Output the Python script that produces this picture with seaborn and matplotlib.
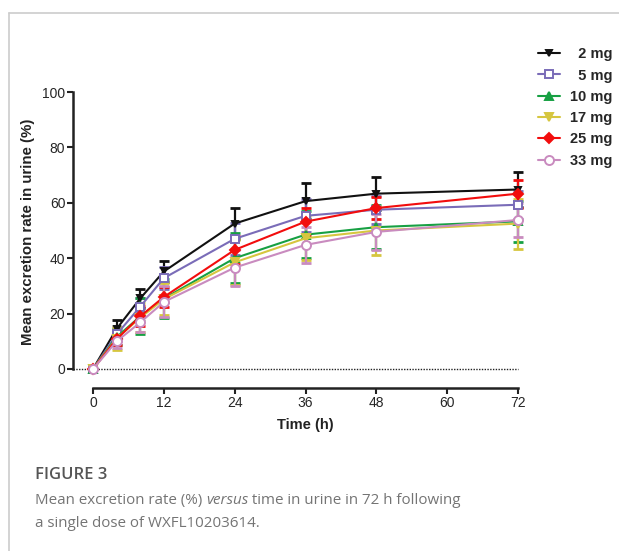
import numpy as np
import pandas as pd
import matplotlib
matplotlib.use("Agg")
import matplotlib.pyplot as plt
from matplotlib.lines import Line2D
import seaborn as sns

# ---- data ----
time_h = [0, 4, 8, 12, 24, 36, 48, 72]
doses = ["2 mg", "5 mg", "10 mg", "17 mg", "25 mg", "33 mg"]
mean_2 = [0, 14.5, 25.5, 35.2, 52.5, 60.6, 63.3, 64.8]
sd_2 = [0, 3.2, 3.5, 3.8, 5.5, 6.5, 6.0, 6.3]
mean_5 = [0, 12.5, 22.5, 32.8, 47.0, 55.3, 57.5, 59.3]
sd_5 = [0, 2.5, 3.0, 4.0, 5.8, 6.0, 5.0, 5.0]
mean_10 = [0, 11.5, 19.0, 25.4, 40.0, 48.5, 51.2, 53.3]
sd_10 = [0, 3.0, 6.5, 7.0, 9.0, 8.5, 8.0, 7.5]
mean_17 = [0, 11.0, 18.5, 25.2, 38.5, 47.2, 50.0, 52.5]
sd_17 = [0, 4.2, 5.3, 5.8, 8.0, 8.0, 9.0, 9.0]
mean_25 = [0, 10.8, 19.0, 26.0, 43.0, 53.2, 58.1, 63.3]
sd_25 = [0, 2.2, 3.6, 3.6, 5.0, 5.0, 4.0, 5.0]
mean_33 = [0, 10.0, 16.8, 24.2, 36.6, 44.8, 49.5, 53.8]
sd_33 = [0, 2.5, 3.5, 5.6, 6.5, 6.4, 6.5, 6.0]
x_ticks = [0, 12, 24, 36, 48, 60, 72]
y_ticks = [0, 20, 40, 60, 80, 100]

means = [mean_2, mean_5, mean_10, mean_17, mean_25, mean_33]
sds = [sd_2, sd_5, sd_10, sd_17, sd_25, sd_33]

colors = ["#111111", "#7a6cb8", "#17a043", "#d6c63f", "#f20d0d", "#c98bbf"]
markers = ["v", "s", "^", "v", "D", "o"]
open_marker = [False, True, False, False, False, True]
msizes = [5, 6, 5.5, 5.5, 5, 6.5]

rows = []
for d, m, s in zip(doses, means, sds):
    for t, mv, sv in zip(time_h, m, s):
        rows.append({"Time": t, "Rate": mv, "SD": sv, "Dose": d})
df = pd.DataFrame(rows)

sns.set_style("ticks")
plt.rcParams["font.family"] = ["Liberation Sans", "DejaVu Sans"]

W, H = 619, 551
PT = 72 / 100  # points per pixel
fig = plt.figure(figsize=(W / 100, H / 100), dpi=100)
ax = fig.add_axes([93 / W, (H - 369) / H, 425 / W, 277 / H])

for i, d in enumerate(doses):
    sub = df[df["Dose"] == d]
    ax.errorbar(sub["Time"], sub["Rate"], yerr=sub["SD"], fmt="none",
                ecolor=colors[i], elinewidth=1.6, capsize=3.3, capthick=2.0,
                clip_on=False, zorder=2 + i * 0.1)
    sns.lineplot(data=sub, x="Time", y="Rate", ax=ax, color=colors[i],
                 marker=markers[i], markersize=msizes[i],
                 markerfacecolor="white" if open_marker[i] else colors[i],
                 markeredgecolor=colors[i], markeredgewidth=1.4,
                 linewidth=1.5, label=d, errorbar=None, clip_on=False,
                 zorder=3 + i * 0.1)

# dotted zero line from the (offset) y spine to 72 h
ax.axhline(0, xmin=-20 / 425, xmax=1.0, color="#222222", linestyle=(0, (1, 1)),
           linewidth=1.0, zorder=1, clip_on=False)

ax.set_xlim(0, 72)
ax.set_ylim(0, 100)
ax.set_xticks(x_ticks)
ax.set_yticks(y_ticks)
ax.set_xticklabels([str(v) for v in x_ticks], fontsize=10, fontweight="bold", color="#222222")
ax.set_yticklabels([str(v) for v in y_ticks], fontsize=10, fontweight="bold", color="#222222")
sns.despine(ax=ax)
ax.spines["bottom"].set_position(("outward", 19 * PT))
ax.spines["left"].set_position(("outward", 20 * PT))
for sp in ["left", "bottom"]:
    ax.spines[sp].set_linewidth(1.8)
    ax.spines[sp].set_color("#222222")
ax.tick_params(axis="both", length=4, width=1.5, color="#222222", pad=1.5)
ax.set_xlabel("Time (h)", fontsize=10.5, fontweight="bold", color="#222222")
ax.set_ylabel("Mean excretion rate in urine (%)", fontsize=10.8, fontweight="bold",
              color="#222222")
ax.xaxis.set_label_coords((305 - 93) / 425, (369 - 425) / 277)
ax.yaxis.set_label_coords((28 - 93) / 425, (369 - 232) / 277)
ax.xaxis.label.set_va("center")
ax.yaxis.label.set_va("center")

handles, labels = ax.get_legend_handles_labels()
pad_labels = ["  " + l if len(l.split()[0]) == 1 else l for l in labels]
leg = ax.legend(handles, pad_labels, loc="upper left",
                bbox_to_anchor=(531 / W, 1 - 40 / H), bbox_transform=fig.transFigure,
                frameon=False, handlelength=1.5, handletextpad=0.7,
                labelspacing=0.5, borderpad=0,
                prop={"weight": "bold", "size": 10.5})

# frame lines of the figure panel
fig.add_artist(Line2D([9 / W, 1], [1 - 13 / H, 1 - 13 / H], transform=fig.transFigure,
                      color="#cccccc", linewidth=1.2))
fig.add_artist(Line2D([9 / W, 9 / W], [0, 1 - 13 / H], transform=fig.transFigure,
                      color="#cccccc", linewidth=1.2))

# caption
cap_font = ["Open Sans", "DejaVu Sans"]
fs = 10.9
fig.text(35 / W, 1 - 479 / H, "FIGURE 3", fontsize=12, family=cap_font,
         weight="semibold", color="#555555", va="baseline")
fig.canvas.draw()
r = fig.canvas.get_renderer()
t1 = fig.text(35 / W, 1 - 504 / H, "Mean excretion rate (%) ", fontsize=fs,
              family=cap_font, color="#747474", va="baseline")
bb = t1.get_window_extent(r)
t2 = fig.text(bb.x1 / W, 1 - 504 / H, "versus", fontsize=fs, family=cap_font,
              style="italic", color="#747474", va="baseline")
bb2 = t2.get_window_extent(r)
fig.text(bb2.x1 / W, 1 - 504 / H, " time in urine in 72 h following", fontsize=fs,
         family=cap_font, color="#747474", va="baseline")
fig.text(35 / W, 1 - 527 / H, "a single dose of WXFL10203614.", fontsize=fs,
         family=cap_font, color="#747474", va="baseline")

fig.savefig("out.png", dpi=100)
